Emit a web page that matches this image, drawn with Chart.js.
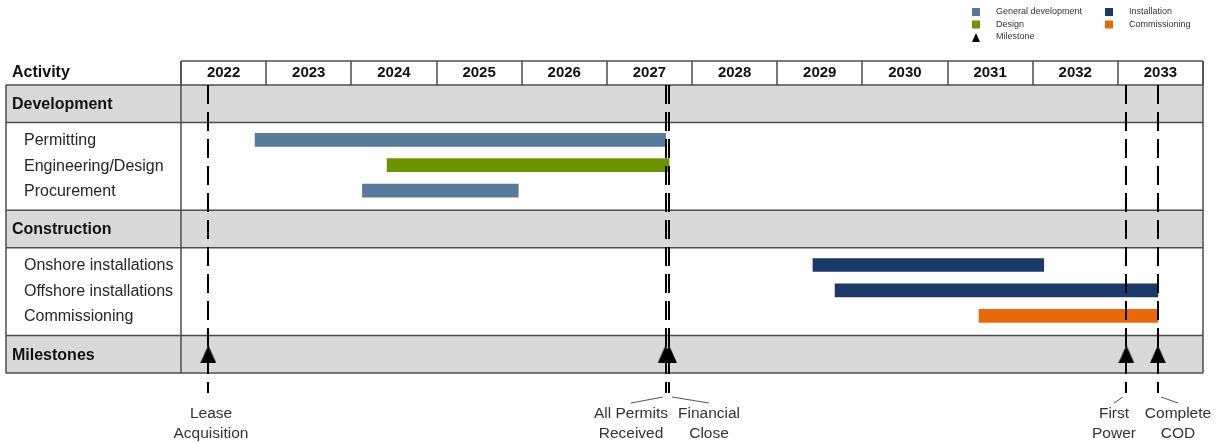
<!DOCTYPE html>
<html>
<head>
<meta charset="utf-8">
<script src="https://cdn.jsdelivr.net/npm/chart.js@4.4.1/dist/chart.umd.min.js"></script>
<style>
  html, body { margin: 0; padding: 0; background: #fff; }
  #wrap { position: relative; width: 1220px; height: 443px; }
</style>
</head>
<body>
<div id="wrap"><canvas id="ganttChart"></canvas></div>
<script>
// Schedule data
const years = ['2022', '2023', '2024', '2025', '2026', '2027', '2028', '2029', '2030', '2031', '2032', '2033'];
const groups = ['Development', 'Construction', 'Milestones'];
const tasks = ['Permitting', 'Engineering/Design', 'Procurement', 'Onshore installations', 'Offshore installations', 'Commissioning'];
const taskGroup = ['Development', 'Development', 'Development', 'Construction', 'Construction', 'Construction'];
const taskType = ['General development', 'Design', 'General development', 'Installation', 'Installation', 'Commissioning'];
const taskStart = [2022.87, 2024.42, 2024.13, 2029.42, 2029.68, 2031.37];
const taskEnd = [2027.69, 2027.73, 2025.96, 2032.13, 2033.47, 2033.47];
const milestoneNames = [['Lease', 'Acquisition'], ['All Permits', 'Received'], ['Financial', 'Close'], ['First', 'Power'], ['Complete', 'COD']];
const milestoneDates = [2022.32, 2027.69, 2027.73, 2033.10, 2033.47];
const legendLeft = ['General development', 'Design', 'Milestone'];
const legendRight = ['Installation', 'Commissioning'];

// Styling / layout
const typeColors = {
  'General development': '#577a9a',
  'Design': '#6b9400',
  'Installation': '#1b3a69',
  'Commissioning': '#e8680c'
};
const FONT = "'Liberation Sans', Arial, sans-serif";
const LINE_COLOR = '#4d4d4d';
const TABLE_LEFT = 6;
const HEADER_TOP = 61;
const GROUP_H = 37.6;
const BLOCK_H = 87.6;
const TASK_PAD = 17.2;
const TASK_STEP = 25.4;
const LINE_BOTTOM = 393;
const labelShift = [3, -35, 40, -12, 20];

// Build row layout (y units are measured from the top of the table body)
function buildRows() {
  const rows = [];
  let pos = 0;
  groups.forEach(g => {
    rows.push({ label: g, kind: 'group', top: pos, bottom: pos + GROUP_H, center: pos + GROUP_H / 2 });
    pos += GROUP_H;
    const members = tasks.filter((_, i) => taskGroup[i] === g);
    if (members.length) {
      members.forEach((name, k) => {
        rows.push({ label: name, kind: 'task', center: pos + TASK_PAD + k * TASK_STEP });
      });
      pos += BLOCK_H;
    }
  });
  return { rows, total: pos };
}
const layout = buildRows();
const rows = layout.rows;
const rowCenter = name => rows.find(r => r.label === name).center;

// Triangle marker used for milestones
function makeTriangle(w, h) {
  const c = document.createElement('canvas');
  c.width = w;
  c.height = h;
  const g = c.getContext('2d');
  g.fillStyle = '#000';
  g.beginPath();
  g.moveTo(w / 2, 0);
  g.lineTo(w, h);
  g.lineTo(0, h);
  g.closePath();
  g.fill();
  return c;
}
const triangle = makeTriangle(16, 18);

const tablePlugin = {
  id: 'ganttTable',
  beforeDatasetsDraw(chart) {
    const { ctx, chartArea, scales: { x, y } } = chart;
    const right = chartArea.right;
    ctx.save();

    // grey group bands
    ctx.fillStyle = '#d9d9d9';
    rows.filter(r => r.kind === 'group').forEach(r => {
      const top = y.getPixelForValue(r.top);
      const bottom = y.getPixelForValue(r.bottom);
      ctx.fillRect(TABLE_LEFT, top, right - TABLE_LEFT, bottom - top);
    });

    ctx.strokeStyle = LINE_COLOR;
    ctx.lineWidth = 1.5;
    const hLine = (yy, x0, x1) => { ctx.beginPath(); ctx.moveTo(x0, yy); ctx.lineTo(x1, yy); ctx.stroke(); };
    const vLine = (xx, y0, y1) => { ctx.beginPath(); ctx.moveTo(xx, y0); ctx.lineTo(xx, y1); ctx.stroke(); };

    // year header
    hLine(HEADER_TOP, chartArea.left, right);
    for (let i = 0; i <= years.length; i++) {
      vLine(Math.round(x.getPixelForValue(2022 + i)), HEADER_TOP, chartArea.top);
    }
    // band borders
    rows.filter(r => r.kind === 'group').forEach(r => {
      hLine(y.getPixelForValue(r.top), TABLE_LEFT, right);
      hLine(y.getPixelForValue(r.bottom), TABLE_LEFT, right);
    });
    vLine(TABLE_LEFT, chartArea.top, chartArea.bottom);
    vLine(chartArea.left, HEADER_TOP, chartArea.bottom);
    vLine(right, HEADER_TOP, chartArea.bottom);

    // header texts
    ctx.fillStyle = '#111';
    ctx.textBaseline = 'middle';
    ctx.font = 'bold 15px ' + FONT;
    ctx.textAlign = 'center';
    years.forEach((yr, i) => {
      ctx.fillText(yr, x.getPixelForValue(2022 + i + 0.5), 73);
    });
    ctx.textAlign = 'left';
    ctx.font = 'bold 16px ' + FONT;
    ctx.fillText('Activity', 12, 73);

    // row labels
    rows.forEach(r => {
      const yy = y.getPixelForValue(r.center) + 1;
      if (r.kind === 'group') {
        ctx.font = 'bold 16px ' + FONT;
        ctx.fillStyle = '#111';
        ctx.fillText(r.label, 12, yy);
      } else {
        ctx.font = '16px ' + FONT;
        ctx.fillStyle = '#262626';
        ctx.fillText(r.label, 24, yy);
      }
    });
    ctx.restore();
  },
  afterDatasetsDraw(chart) {
    const { ctx, chartArea, scales: { x } } = chart;
    ctx.save();
    ctx.strokeStyle = '#000';
    ctx.lineWidth = 2;
    ctx.setLineDash([19, 8]);
    milestoneDates.forEach(d => {
      const px = Math.round(x.getPixelForValue(d));
      ctx.beginPath();
      ctx.moveTo(px, chartArea.top);
      ctx.lineTo(px, LINE_BOTTOM);
      ctx.stroke();
    });
    ctx.restore();
  },
  afterDraw(chart) {
    const { ctx, scales: { x } } = chart;
    ctx.save();

    // milestone captions with leader lines
    ctx.font = '15.5px ' + FONT;
    ctx.fillStyle = '#333';
    ctx.textAlign = 'center';
    ctx.textBaseline = 'middle';
    ctx.strokeStyle = '#555';
    ctx.lineWidth = 1;
    milestoneDates.forEach((d, i) => {
      const px = Math.round(x.getPixelForValue(d));
      const cx = px + labelShift[i];
      milestoneNames[i].forEach((line, k) => ctx.fillText(line, cx, 414 + k * 20));
      if (Math.abs(labelShift[i]) > 5) {
        ctx.beginPath();
        ctx.moveTo(px + Math.sign(labelShift[i]) * 3, 397);
        ctx.lineTo(cx, 403);
        ctx.stroke();
      }
    });

    // legend
    ctx.font = '9px ' + FONT;
    ctx.textAlign = 'left';
    ctx.fillStyle = '#333';
    const drawKey = (name, kx, ky) => {
      if (name === 'Milestone') {
        ctx.drawImage(makeTriangle(8, 9), kx, ky - 4);
      } else {
        ctx.fillStyle = typeColors[name];
        ctx.fillRect(kx, ky - 4, 8, 8);
      }
      ctx.fillStyle = '#333';
      ctx.fillText(name, kx + 24, ky);
    };
    legendLeft.forEach((name, i) => drawKey(name, 972, 12 + i * 12.5));
    legendRight.forEach((name, i) => drawKey(name, 1105, 12 + i * 12.5));
    ctx.restore();
  }
};

const ctx = document.getElementById('ganttChart').getContext('2d');
new Chart(ctx, {
  type: 'bar',
  data: {
    datasets: [{
      label: 'Activities',
      data: tasks.map((t, i) => ({ x: [taskStart[i], taskEnd[i]], y: rowCenter(t) })),
      backgroundColor: taskType.map(t => typeColors[t]),
      borderWidth: 0,
      borderSkipped: false,
      barThickness: 13
    }, {
      type: 'scatter',
      label: 'Milestone',
      indexAxis: 'x',
      data: milestoneDates.map(d => ({ x: d, y: rowCenter('Milestones') })),
      pointStyle: triangle,
      pointRadius: 9,
      backgroundColor: '#000'
    }]
  },
  options: {
    indexAxis: 'y',
    responsive: true,
    maintainAspectRatio: false,
    animation: false,
    layout: {
      padding: { left: 181, top: 85, right: 17, bottom: 70 }
    },
    plugins: {
      legend: { display: false },
      tooltip: { enabled: false }
    },
    scales: {
      x: { type: 'linear', min: 2022, max: 2034, offset: false, display: false },
      y: { type: 'linear', min: 0, max: layout.total, reverse: true, offset: false, display: false }
    }
  },
  plugins: [tablePlugin]
});
</script>
</body>
</html>
